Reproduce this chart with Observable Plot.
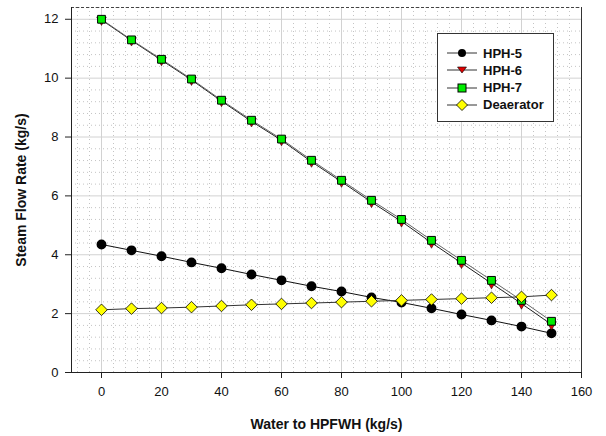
<!DOCTYPE html>
<html>
<head>
<meta charset="utf-8">
<script src="https://cdn.jsdelivr.net/npm/d3@7"></script>
<script src="https://cdn.jsdelivr.net/npm/@observablehq/plot@0.6"></script>
<style>
  html, body { margin: 0; padding: 0; background: #fff; }
  #wrap { position: relative; width: 606px; height: 436px; font-family: Arial, "Liberation Sans", sans-serif; }
  #legend { position: absolute; left: 437px; top: 33px; width: 117px; height: 89px; border: 1px solid #333; background: #fff; box-sizing: border-box; }
  .lg-row { position: absolute; left: 0; height: 18px; display: flex; align-items: center; }
  .lg-row span { font-weight: bold; font-size: 13px; color: #111; margin-left: 6px; }
</style>
</head>
<body>
<div id="wrap"></div>
<script>
const water = [0, 10, 20, 30, 40, 50, 60, 70, 80, 90, 100, 110, 120, 130, 140, 150];
const hph5 = [4.35, 4.15, 3.95, 3.74, 3.54, 3.33, 3.13, 2.93, 2.75, 2.55, 2.38, 2.18, 1.97, 1.77, 1.56, 1.33];
const hph6 = [11.98, 11.28, 10.61, 9.94, 9.22, 8.53, 7.89, 7.16, 6.48, 5.79, 5.13, 4.41, 3.72, 3.03, 2.34, 1.63];
const hph7 = [12.0, 11.3, 10.64, 9.97, 9.25, 8.57, 7.93, 7.21, 6.53, 5.85, 5.2, 4.49, 3.81, 3.13, 2.45, 1.74];
const deaerator = [2.13, 2.17, 2.19, 2.22, 2.26, 2.3, 2.33, 2.36, 2.39, 2.42, 2.45, 2.48, 2.51, 2.54, 2.57, 2.63];
const seriesNames = ["HPH-5", "HPH-6", "HPH-7", "Deaerator"];
const xTicks = [0, 20, 40, 60, 80, 100, 120, 140, 160];
const yTicks = [0, 2, 4, 6, 8, 10, 12];

const mk = (name, vals) => water.map((w, i) => ({series: name, x: w, y: vals[i]}));
const d5 = mk("HPH-5", hph5), d6 = mk("HPH-6", hph6), d7 = mk("HPH-7", hph7), dd = mk("Deaerator", deaerator);

const xMinor = d3.range(-8, 161, 4).filter(v => v % 20 !== 0);
const yMinor = d3.range(0.4, 12.41, 0.4).map(v => +v.toFixed(1)).filter(v => Math.abs(v / 2 - Math.round(v / 2)) > 1e-6);

const chart = Plot.plot({
  width: 606, height: 436,
  marginLeft: 71, marginRight: 25, marginTop: 7, marginBottom: 64,
  style: {fontFamily: "Arial, 'Liberation Sans', sans-serif", fontSize: "13px", color: "#111", background: "#fff"},
  x: {domain: [-10, 160]},
  y: {domain: [0, 12.4]},
  marks: [
    Plot.ruleX(xMinor, {stroke: "#c4c4c4", strokeDasharray: "1,3", strokeWidth: 1}),
    Plot.ruleY(yMinor, {stroke: "#c4c4c4", strokeDasharray: "1,3", strokeWidth: 1}),
    Plot.ruleX(xTicks.filter(v => v < 160), {stroke: "#d2d2d2", strokeWidth: 1}),
    Plot.ruleY(yTicks.filter(v => v > 0 && v < 12.4), {stroke: "#d2d2d2", strokeWidth: 1}),
    Plot.ruleY([12.4], {stroke: "#444", strokeDasharray: "3,2", strokeWidth: 1}),
    Plot.ruleX([160], {stroke: "#333", strokeWidth: 1}),
    Plot.axisX({ticks: xTicks, tickSize: 6, tickPadding: 8, label: "Water to HPFWH (kg/s)", labelAnchor: "center", labelArrow: "none", labelOffset: 56, stroke: "#222"}),
    Plot.axisY({ticks: yTicks, tickSize: 6, tickPadding: 7, label: "Steam Flow Rate (kg/s)", labelAnchor: "center", labelArrow: "none", labelOffset: 55, stroke: "#222"}),
    Plot.ruleX([-10], {stroke: "#222", strokeWidth: 1}),
    Plot.ruleY([0], {x1: -12, x2: 160, stroke: "#222", strokeWidth: 1}),
    Plot.line(d5, {x: "x", y: "y", stroke: "#111", strokeWidth: 1}),
    Plot.line(d6, {x: "x", y: "y", stroke: "#222", strokeWidth: 1}),
    Plot.line(d7, {x: "x", y: "y", stroke: "#666", strokeWidth: 1}),
    Plot.line(dd, {x: "x", y: "y", stroke: "#333", strokeWidth: 1}),
    Plot.dot(d5, {x: "x", y: "y", r: 4.2, fill: "#000", stroke: "#000"}),
    Plot.dot(d6, {x: "x", y: "y", r: 3.6, symbol: "triangle", rotate: 180, fill: "#e00000", stroke: "#000", strokeWidth: 0.5}),
    Plot.dot(d7, {x: "x", y: "y", r: 4.4, symbol: "square", fill: "#00ee00", stroke: "#000", strokeWidth: 1}),
    Plot.dot(dd, {x: "x", y: "y", r: 5.2, symbol: "diamond2", fill: "#ffff00", stroke: "#000", strokeWidth: 0.8})
  ]
});
// bold axis titles
chart.querySelectorAll("[aria-label='x-axis label'] text, [aria-label='y-axis label'] text").forEach(t => {
  t.setAttribute("font-weight", "bold");
  t.setAttribute("font-size", "14");
});
const wrap = document.getElementById("wrap");
wrap.appendChild(chart);

// legend
const legend = document.createElement("div");
legend.id = "legend";
const symbols = {
  "HPH-5": '<circle cx="15" cy="9" r="4" fill="#000"/>',
  "HPH-6": '<path d="M10.5,6 L19.5,6 L15,12 Z" fill="#e00000" stroke="#000" stroke-width="0.6"/>',
  "HPH-7": '<rect x="11" y="5" width="8" height="8" fill="#00ee00" stroke="#000"/>',
  "Deaerator": '<path d="M15,3.5 L20.5,9 L15,14.5 L9.5,9 Z" fill="#ffff00" stroke="#000" stroke-width="0.8"/>'
};
seriesNames.forEach((name, i) => {
  const row = document.createElement("div");
  row.className = "lg-row";
  row.style.top = (10 + i * 17.3) + "px";
  row.style.left = "9px";
  row.innerHTML = `<svg width="30" height="18"><line x1="0" x2="30" y1="9" y2="9" stroke="#333" stroke-width="1"/>${symbols[name]}</svg><span>${name}</span>`;
  legend.appendChild(row);
});
wrap.appendChild(legend);
</script>
</body>
</html>
